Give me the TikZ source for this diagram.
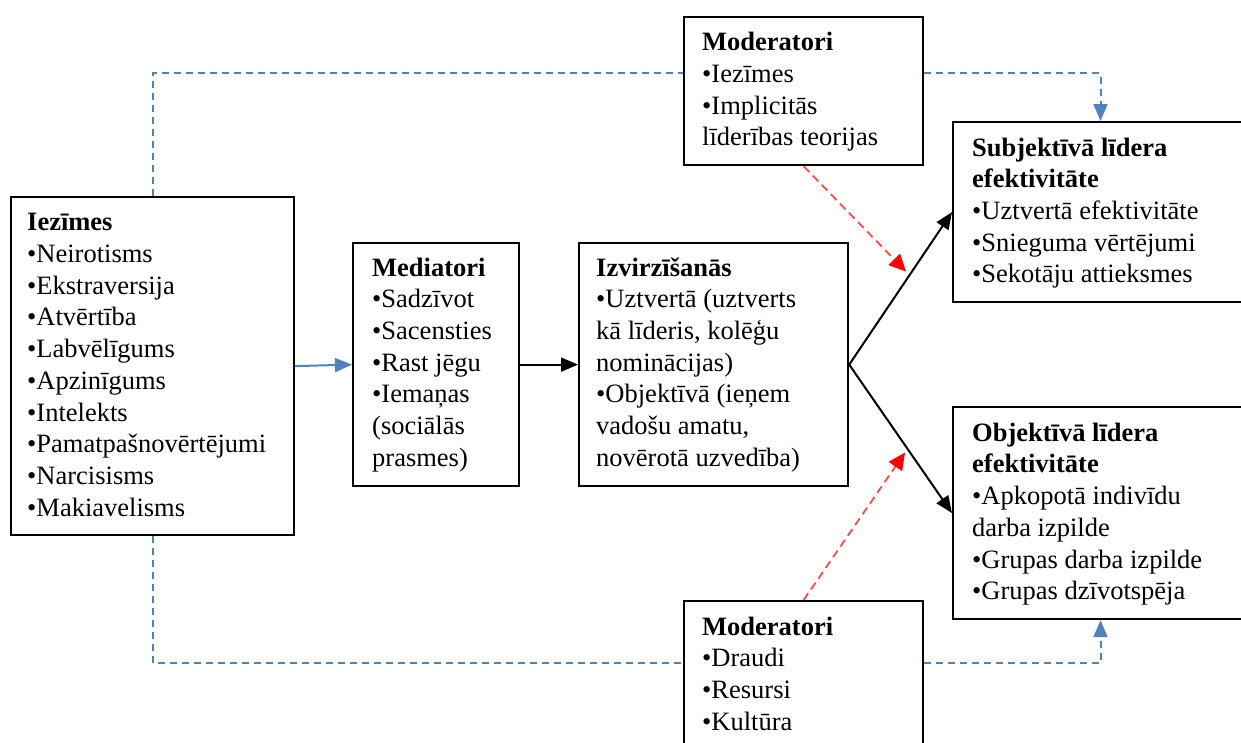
\documentclass[tikz,border=0pt]{standalone}
\usepackage{fontspec}
\setmainfont{Liberation Serif}
\usetikzlibrary{arrows.meta}
\definecolor{linkblue}{RGB}{79,129,189}
\definecolor{modred}{RGB}{255,75,75}
\newcommand\boxfont{\fontsize{26.5}{31.7}\selectfont}
\begin{document}
\begin{tikzpicture}[x=1pt,y=-1pt,
  box/.style={draw=black, line width=2.2pt, rectangle, inner sep=0pt, anchor=north west},
  txt/.style={anchor=north west, inner sep=0pt, align=left, font=\boxfont},
  tip/.style={-{Triangle[length=17pt,width=14pt]}},
  solidarrow/.style={tip, line width=2pt, black},
  bluearrow/.style={tip, line width=2pt, linkblue},
  bluedash/.style={line width=2pt, linkblue, dash pattern=on 7pt off 5pt},
  reddash/.style={line width=1.8pt, modred, dash pattern=on 8pt off 5pt,
    -{Triangle[length=17pt,width=16pt,red]}}]
\useasboundingbox (0,0) rectangle (1241,742);
\clip (0,0) rectangle (1241,742);

% boxes
\node[box, minimum width=283pt, minimum height=338pt] (iez) at (10,196) {};
\node[box, minimum width=166pt, minimum height=243pt] (med) at (352,242) {};
\node[box, minimum width=269pt, minimum height=243pt] (izv) at (578,242) {};
\node[box, minimum width=239pt, minimum height=148pt] (modtop) at (683,16) {};
\node[box, minimum width=320pt, minimum height=180pt] (subj) at (952,121) {};
\node[box, minimum width=320pt, minimum height=212pt] (obj) at (952,406) {};
\node[box, minimum width=239pt, minimum height=200pt] (modbot) at (683,600) {};

% box texts
\node[txt] (iezT) at (27,208.5) {\strut\textbf{Iezīmes}\\•Neirotisms\\•Ekstraversija\\•Atvērtība\\•Labvēlīgums\\•Apzinīgums\\•Intelekts\\•Pamatpašnovērtējumi\\•Narcisisms\\•Makiavelisms};
\node[txt] (medT) at (372,253.8) {\strut\textbf{Mediatori}\\•Sadzīvot\\•Sacensties\\•Rast jēgu\\•Iemaņas\\(sociālās\\prasmes)};
\node[txt] (izvT) at (596,253.8) {\strut\textbf{Izvirzīšanās}\\•Uztvertā (uztverts\\kā līderis, kolēģu\\nominācijas)\\•Objektīvā (ieņem\\vadošu amatu,\\novērotā uzvedība)};
\node[txt] (modtopT) at (702,28.5) {\strut\textbf{Moderatori}\\•Iezīmes\\•Implicitās\\līderības teorijas};
\node[txt] (subjT) at (972,133.8) {\strut\textbf{Subjektīvā līdera}\\\textbf{efektivitāte}\\•Uztvertā efektivitāte\\•Snieguma vērtējumi\\•Sekotāju attieksmes};
\node[txt] (objT) at (972,418.8) {\strut\textbf{Objektīvā līdera}\\\textbf{efektivitāte}\\•Apkopotā indivīdu\\darba izpilde\\•Grupas darba izpilde\\•Grupas dzīvotspēja};
\node[txt] (modbotT) at (702,612.8) {\strut\textbf{Moderatori}\\•Draudi\\•Resursi\\•Kultūra};

% routing levels of the dashed links
\coordinate (ytop) at (0,73.3);
\coordinate (ybot) at (0,663.3);
\coordinate (xr) at (1100.5,0);
\coordinate (redA) at (906,271.5);
\coordinate (redB) at (905,452.5);

% main chain
\draw[bluearrow] (iez.east) -- (med.west);
\draw[solidarrow] (med.east) -- (izv.west);
\draw[solidarrow] (izv.east) -- (subj.west);
\draw[solidarrow] (izv.east) -- (obj.west);

% moderating effects
\draw[reddash] (modtop.south) -- (redA);
\draw[reddash] (modbot.north) -- (redB);

% dashed links through the moderators
\draw[bluedash] (iez.north) -- (iez.north |- ytop) -- (modtop.west |- ytop);
\draw[bluedash, tip] (modtop.east |- ytop) -- (xr |- ytop) -- (xr |- subj.north);
\draw[bluedash] (iez.south) -- (iez.south |- ybot) -- (modbot.west |- ybot);
\draw[bluedash, tip] (modbot.east |- ybot) -- (xr |- ybot) -- (xr |- obj.south);
\end{tikzpicture}
\end{document}
